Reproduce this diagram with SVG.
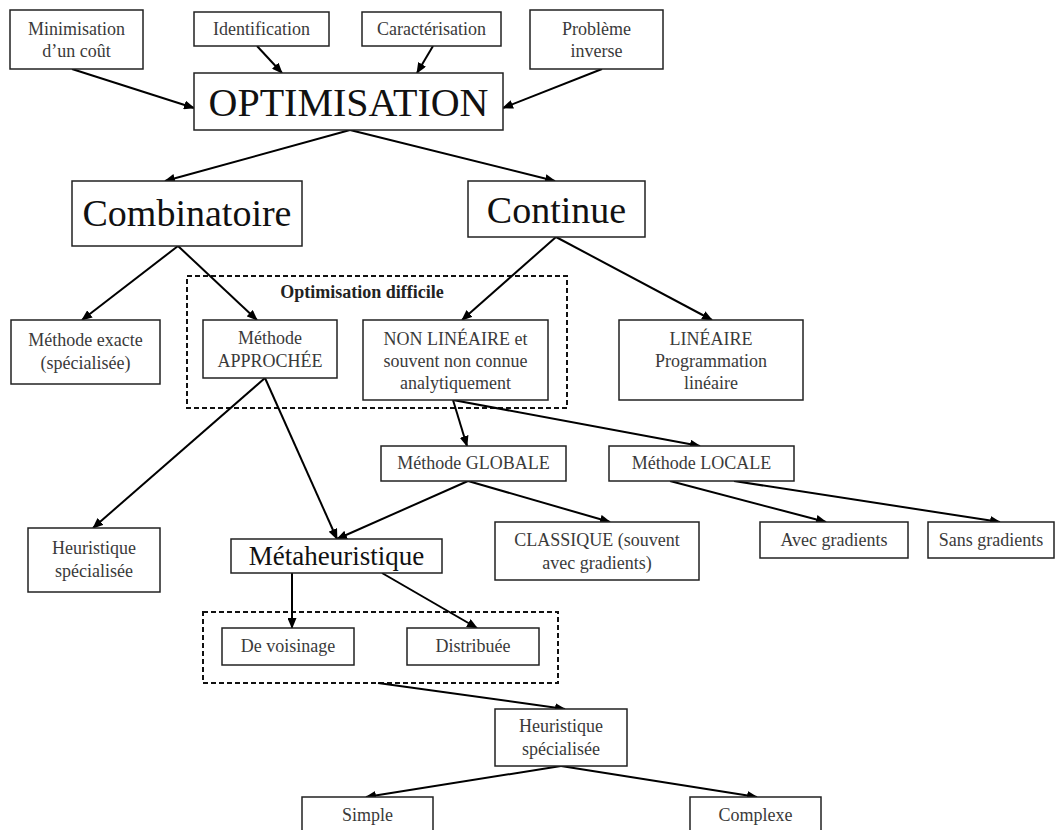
<svg xmlns="http://www.w3.org/2000/svg" width="1056" height="830" viewBox="0 0 1056 830">
<defs>
<marker id="ah" markerUnits="userSpaceOnUse" markerWidth="11" markerHeight="9" refX="10" refY="4.5" orient="auto">
<path d="M0,0 L11,4.5 L0,9 z" fill="#000"/>
</marker>
<style>
.b{fill:#fff;stroke:#222;stroke-width:1.5}
.d{fill:none;stroke:#111;stroke-width:2;stroke-dasharray:5,3}
.t{font-family:"Liberation Serif","Times New Roman",serif;font-size:18px;fill:#3a3a3a;text-anchor:middle}
.big{font-family:"Liberation Serif","Times New Roman",serif;font-size:38px;fill:#111;text-anchor:middle}
.bold{font-family:"Liberation Serif","Times New Roman",serif;font-size:18px;font-weight:bold;fill:#222;text-anchor:middle}
.c line{stroke:#000;stroke-width:2;marker-end:url(#ah)}
</style>
</defs>
<rect width="1056" height="830" fill="#fff"/>

<g id="groups">
<rect class="d" x="187" y="276" width="380" height="132"/>
<text class="bold" x="362" y="298">Optimisation difficile</text>
<rect class="d" x="203" y="612" width="355" height="71"/>
</g>

<g class="c" id="connectors">
<line x1="72" y1="69" x2="194" y2="108"/>
<line x1="257" y1="46" x2="282" y2="73"/>
<line x1="433" y1="46" x2="417" y2="73"/>
<line x1="602" y1="69" x2="503" y2="108"/>
<line x1="350" y1="130" x2="165" y2="181"/>
<line x1="350" y1="130" x2="555" y2="181"/>
<line x1="178" y1="246" x2="82" y2="320"/>
<line x1="178" y1="246" x2="257" y2="320"/>
<line x1="556" y1="237" x2="462" y2="320"/>
<line x1="556" y1="237" x2="712" y2="320"/>
<line x1="265" y1="378" x2="93" y2="528"/>
<line x1="265" y1="378" x2="337" y2="539"/>
<line x1="453" y1="400" x2="467" y2="446"/>
<line x1="453" y1="400" x2="700" y2="446"/>
<line x1="468" y1="481" x2="337" y2="539"/>
<line x1="468" y1="481" x2="610" y2="522"/>
<line x1="670" y1="481" x2="826" y2="522"/>
<line x1="734" y1="481" x2="1000" y2="522"/>
<line x1="292" y1="573" x2="292" y2="628"/>
<line x1="382" y1="573" x2="477" y2="628"/>
<line x1="378" y1="683" x2="565" y2="709"/>
<line x1="561" y1="766" x2="366" y2="797"/>
<line x1="561" y1="766" x2="757" y2="797"/>
</g>

<g id="n_min"><rect class="b" x="10" y="10" width="133" height="59"/><text class="t" x="76.5" y="35">Minimisation</text><text class="t" x="76.5" y="57">d’un coût</text></g>
<g id="n_ident"><rect class="b" x="194" y="12" width="135" height="34"/><text class="t" x="261.5" y="35">Identification</text></g>
<g id="n_carac"><rect class="b" x="362" y="12" width="139" height="34"/><text class="t" x="431.5" y="35">Caractérisation</text></g>
<g id="n_prob"><rect class="b" x="530" y="10" width="133" height="59"/><text class="t" x="596.5" y="35">Problème</text><text class="t" x="596.5" y="57">inverse</text></g>
<g id="n_opt"><rect class="b" x="194" y="73" width="309" height="57"/><text class="big" x="348.5" y="116" style="font-size:40px">OPTIMISATION</text></g>
<g id="n_comb"><rect class="b" x="72" y="181" width="230" height="65"/><text class="big" x="187" y="226">Combinatoire</text></g>
<g id="n_cont"><rect class="b" x="468" y="181" width="177" height="56"/><text class="big" x="556.5" y="223">Continue</text></g>
<g id="n_exact"><rect class="b" x="11" y="320" width="149" height="64"/><text class="t" x="85.5" y="346">Méthode exacte</text><text class="t" x="85.5" y="369">(spécialisée)</text></g>
<g id="n_appr"><rect class="b" x="203" y="320" width="134" height="58"/><text class="t" x="270" y="344">Méthode</text><text class="t" x="270" y="367">APPROCHÉE</text></g>
<g id="n_nonlin"><rect class="b" x="363" y="320" width="185" height="80"/><text class="t" x="455.5" y="345">NON LINÉAIRE et</text><text class="t" x="455.5" y="367">souvent non connue</text><text class="t" x="455.5" y="389">analytiquement</text></g>
<g id="n_lin"><rect class="b" x="619" y="320" width="184" height="80"/><text class="t" x="711" y="345">LINÉAIRE</text><text class="t" x="711" y="367">Programmation</text><text class="t" x="711" y="389">linéaire</text></g>
<g id="n_glob"><rect class="b" x="381" y="446" width="185" height="35"/><text class="t" x="473.5" y="469">Méthode GLOBALE</text></g>
<g id="n_loc"><rect class="b" x="609" y="446" width="185" height="35"/><text class="t" x="701.5" y="469">Méthode LOCALE</text></g>
<g id="n_heur1"><rect class="b" x="28" y="528" width="132" height="64"/><text class="t" x="94" y="554">Heuristique</text><text class="t" x="94" y="577">spécialisée</text></g>
<g id="n_meta"><rect class="b" x="231" y="539" width="211" height="34"/><text class="big" x="336.5" y="565" style="font-size:27px">Métaheuristique</text></g>
<g id="n_class"><rect class="b" x="495" y="522" width="204" height="58"/><text class="t" x="597" y="546">CLASSIQUE (souvent</text><text class="t" x="597" y="569">avec gradients)</text></g>
<g id="n_avec"><rect class="b" x="760" y="522" width="148" height="36"/><text class="t" x="834" y="546">Avec gradients</text></g>
<g id="n_sans"><rect class="b" x="928" y="522" width="126" height="36"/><text class="t" x="991" y="546">Sans gradients</text></g>
<g id="n_vois"><rect class="b" x="222" y="628" width="132" height="37"/><text class="t" x="288" y="652">De voisinage</text></g>
<g id="n_dist"><rect class="b" x="407" y="628" width="132" height="37"/><text class="t" x="473" y="652">Distribuée</text></g>
<g id="n_heur2"><rect class="b" x="495" y="709" width="132" height="57"/><text class="t" x="561" y="732">Heuristique</text><text class="t" x="561" y="755">spécialisée</text></g>
<g id="n_simple"><rect class="b" x="302" y="797" width="131" height="40"/><text class="t" x="367.5" y="821">Simple</text></g>
<g id="n_comp"><rect class="b" x="690" y="797" width="131" height="40"/><text class="t" x="755.5" y="821">Complexe</text></g>
</svg>
